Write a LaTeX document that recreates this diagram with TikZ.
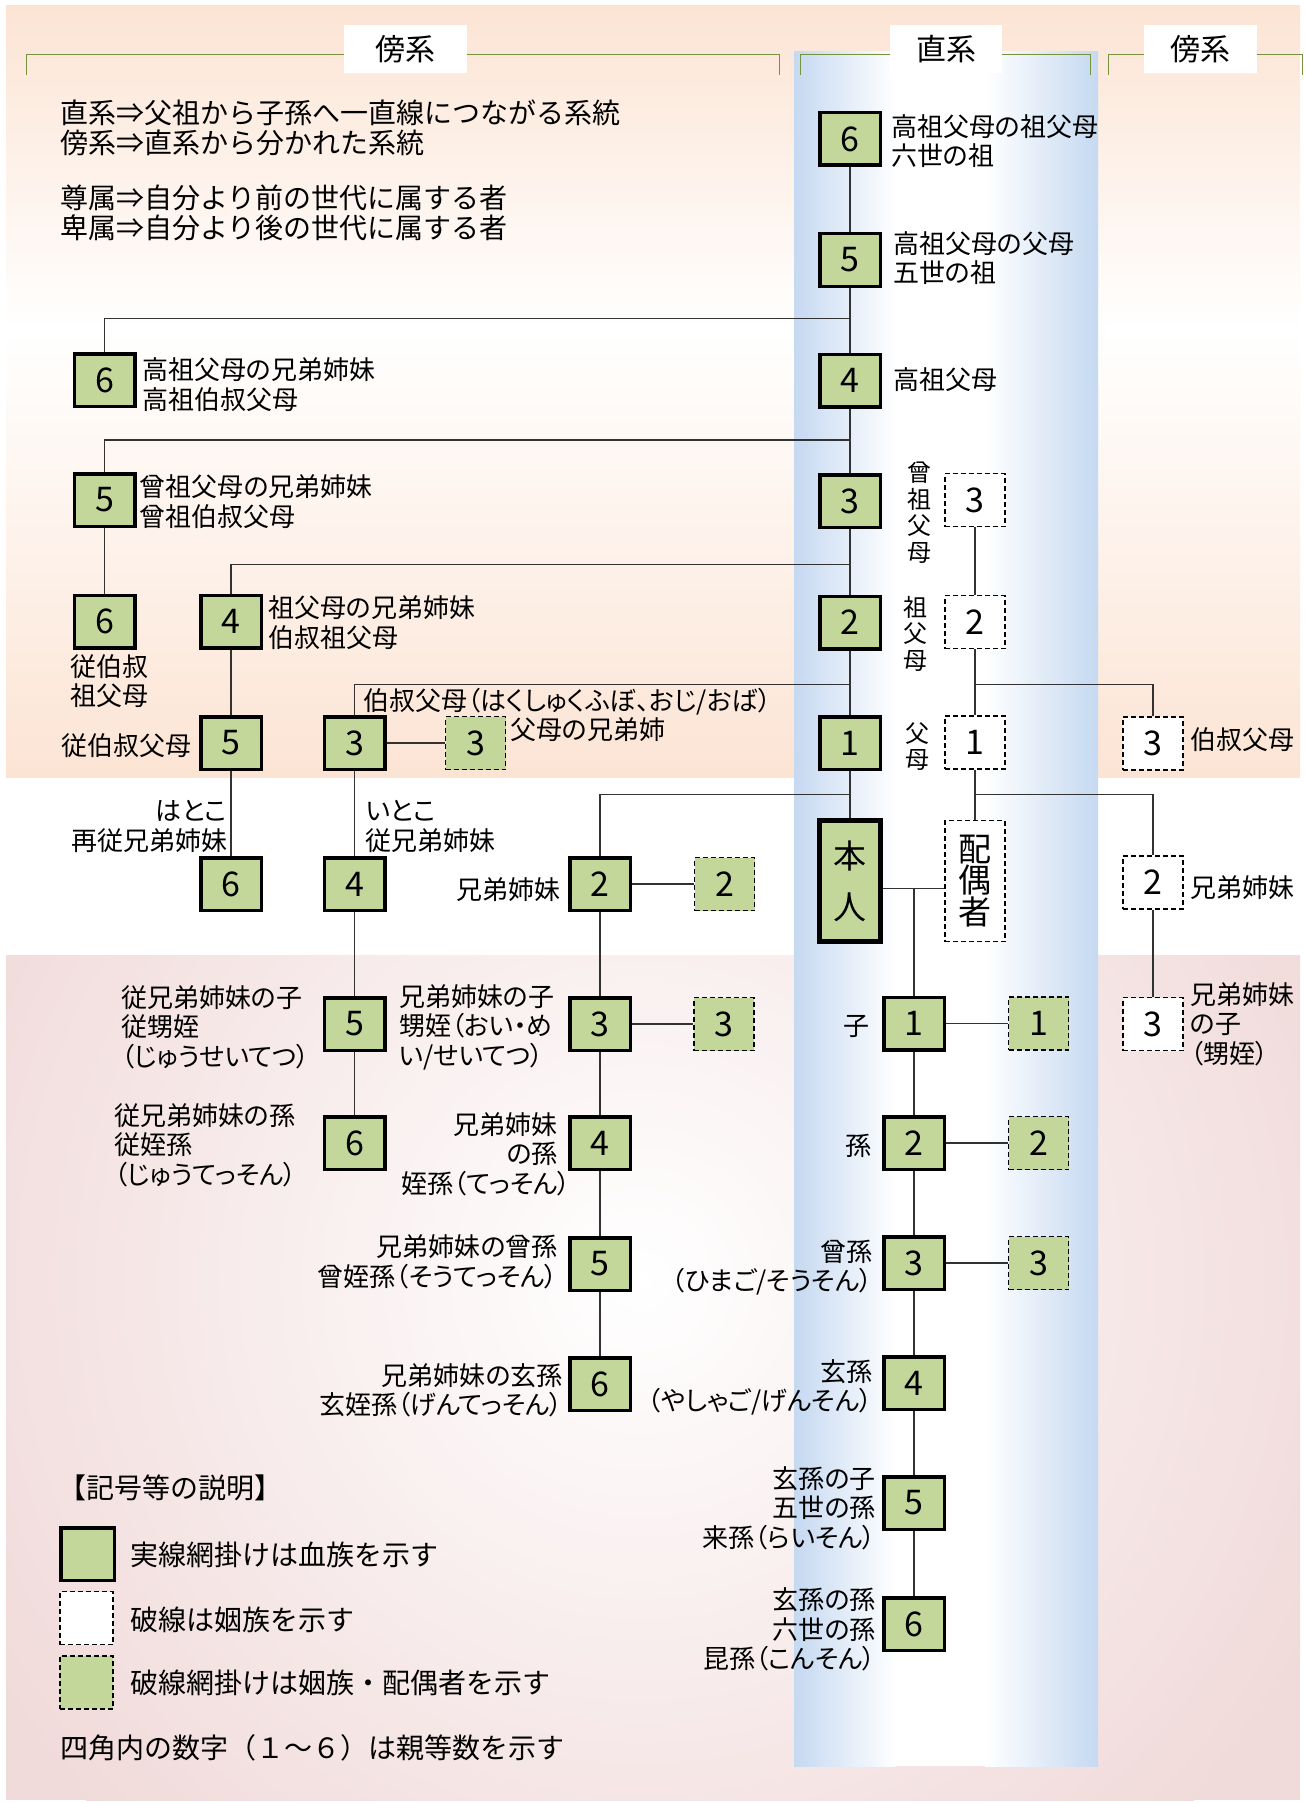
\documentclass[tikz,border=0pt]{standalone}
\usepackage{fontspec}
\setmainfont{Noto Sans CJK JP}[RawFeature=+palt]
\newfontfamily\fullwidth{Noto Sans CJK JP}

\definecolor{kingreen}{RGB}{196,215,155}
\definecolor{peach}{RGB}{252,228,212}
\definecolor{rose}{RGB}{241,218,218}
\definecolor{sky}{RGB}{197,217,241}
\definecolor{olive}{RGB}{118,146,60}
\definecolor{wiregray}{RGB}{50,50,50}

\def\numfont{\fontsize{34}{34}\selectfont}
\def\namefont{\fontsize{26}{29.5}\selectfont}
\def\notefont{\fullwidth\fontsize{28}{30}\selectfont}

\tikzset{%
  blood/.style={draw=black, line width=3.5pt, fill=kingreen,%
    minimum width=60.5pt, minimum height=52.5pt, inner sep=0pt, font=\numfont},%
  inlaw/.style={draw=black, dash pattern=on 5pt off 3pt, line width=1.3pt,%
    fill=white, minimum width=60pt, minimum height=53pt, inner sep=0pt, font=\numfont},%
  spouse/.style={inlaw, fill=kingreen},%
  wire/.style={draw=wiregray, line width=1.3pt},%
  kinlbl/.style={inner sep=0pt, font=\namefont},%
  vlbl/.style={inner sep=0pt, align=center, font=\fontsize{24}{26.5}\selectfont},%
  notelbl/.style={inner sep=0pt, anchor=west, align=left, font=\notefont},%
  hdr/.style={fill=white, minimum height=48pt, inner sep=0pt, font=\fontsize{30}{30}\selectfont},%
  brk/.style={draw=olive, line width=1pt},%
}

\begin{document}
\begin{tikzpicture}[x=1pt,y=-1pt]%
  \useasboundingbox (0,0) rectangle (1305,1803);%
  % Background bands
  \shade[top color=peach,bottom color=white] (6,6) rectangle (1300,330);%
  \shade[top color=white,bottom color=peach] (6,329.5) rectangle (1300,777);%
  \fill[rose] (6,955) rectangle (1300,1800);%
  \begin{scope}%
    \clip (6,955) rectangle (1300,1800);%
    \shade[inner color=white,outer color=rose] (640,1280) circle (760);%
  \end{scope}%
  % Direct line column
  \shade[left color=sky,right color=white] (794,52) rectangle (895.5,1766);%
  \fill[white] (895,52) rectangle (985.5,1766);%
  \shade[left color=white,right color=sky] (985,52) rectangle (1098,1766);%
  % Brackets and headers
  \foreach \xa/\xb in {26.7/779, 800/1090, 1108/1302}%
    \draw[brk] (\xa,75) -- (\xa,55) -- (\xb,55) -- (\xb,75);%
  \foreach \nm/\x/\w/\txt in {hL/405.5/123/傍系, hC/946/112/直系, hR/1200.5/113/傍系}%
    \node[hdr, minimum width=\w] (\nm) at (\x,49) {\txt};%
  % Notes at top left
  \node[notelbl] (top1) at (60,128) {直系⇒父祖から子孫へ一直線につながる系統\\傍系⇒直系から分かれた系統};%
  \node[notelbl] (top2) at (60,212.5) {尊属⇒自分より前の世代に属する者\\卑属⇒自分より後の世代に属する者};%
  % Blood relatives: name/x/y/degree
  \foreach \nm/\x/\y/\num in {%
      D6/850/139/6, D5/850/260/5, D4/850/380.5/4, D3/850/501/3, D2/850/622.5/2, D1/850/743/1,%
      L6a/104.5/380/6, L5/104.5/500/5, L6b/104.5/621.5/6,%
      L4/231/621.5/4, L5b/231/743/5, L6c/231/884/6,%
      L3/354.5/743/3, L4b/354.5/884/4, L5c/354.5/1024/5, L6d/354.5/1143/6,%
      S2/600/884/2, S3/600/1024/3, S4/600/1143/4, S5/600/1264/5, S6/600/1384/6,%
      C1/914/1023.5/1, C2/914/1143/2, C3/914/1263/3, C4/914/1383/4, C5/914/1503/5, C6/914/1624/6%
    }%
    \node[blood] (\nm) at (\x,\y) {\num};%
  \node[blood, line width=5pt, minimum height=121pt, align=center,%
    font=\fontsize{33}{51}\selectfont] (H) at (850,881) {本\\人};%
  % Relatives by marriage (dashed, white)
  \foreach \nm/\x/\y/\num in {%
      A3/975/500/3, A2/975/622/2, A1/975/742.5/1,%
      R3/1153/743.5/3, R2/1153/882.5/2, R3b/1153/1024/3%
    }%
    \node[inlaw] (\nm) at (\x,\y) {\num};%
  \node[inlaw, minimum height=121pt, align=center,%
    font=\fontsize{33}{31.5}\selectfont] (P) at (975,881) {配\\偶\\者};%
  % Spouses of blood relatives (dashed, green)
  \foreach \nm/\x/\y/\num in {%
      L3s/475.5/743/3, S2s/724.5/884/2, S3s/724/1024/3,%
      C1s/1038.5/1023.5/1, C2s/1038.5/1143/2, C3s/1038.5/1263/3%
    }%
    \node[spouse] (\nm) at (\x,\y) {\num};%
  % Junctions on the vertical lines
  \coordinate (j6) at (850,318.3);%
  \coordinate (j5) at (850,440);%
  \coordinate (j4) at (850,564.3);%
  \coordinate (j3) at (850,684.3);%
  \coordinate (j2) at (850,794.5);%
  \coordinate (ja2) at (975,684.3);%
  \coordinate (ja1) at (975,794.5);%
  \coordinate (jm) at (914,888.3);%
  % Connectors
  \foreach \a/\b in {%
      D6/D5, D5/D4, D4/D3, D3/D2, D2/D1, D1/H,%
      L5/L6b, L4/L5b, L5b/L6c, L3/L4b, L4b/L5c, L5c/L6d,%
      S2/S3, S3/S4, S4/S5, S5/S6,%
      C1/C2, C2/C3, C3/C4, C4/C5, C5/C6,%
      A3/A2, A2/A1, A1/P, R2/R3b,%
      L3/L3s, S2/S2s, S3/S3s, C1/C1s, C2/C2s, C3/C3s%
    }%
    \draw[wire] (\a) -- (\b);%
  \foreach \j/\n in {j6/L6a, j5/L5, j4/L4, j3/L3, j2/S2, ja2/R3, ja1/R2}%
    \draw[wire] (\j) -| (\n);%
  \draw[wire] (H.east |- jm) -- (P.west |- jm);%
  \draw[wire] (jm) -- (C1);%
  % Names on the direct line
  \node[kinlbl, anchor=west, align=left] (nD6) at (891,141) {高祖父母の祖父母\\六世の祖};%
  \node[kinlbl, anchor=west, align=left] (nD5) at (893,258) {高祖父母の父母\\五世の祖};%
  \node[kinlbl, anchor=west] (nD4) at (893,380) {高祖父母};%
  \node[vlbl] (nA3) at (919,512.5) {曾\\祖\\父\\母};%
  \node[vlbl] (nA2) at (915,633.5) {祖\\父\\母};%
  \node[vlbl] (nA1) at (917,746.5) {父\\母};%
  \node[kinlbl, anchor=east] (nC1) at (870,1026.5) {子};%
  \node[kinlbl, anchor=east] (nC2) at (872,1146) {孫};%
  \node[kinlbl, anchor=east, align=right] (nC3) at (872.5,1267.5) {曾孫\\（ひまご/そうそん）};%
  \node[kinlbl, anchor=east, align=right] (nC4) at (872.5,1387.5) {玄孫\\（やしゃご/げんそん）};%
  \node[kinlbl, anchor=east, align=right] (nC5) at (876,1508) {玄孫の子\\五世の孫\\来孫（らいそん）};%
  \node[kinlbl, anchor=east, align=right] (nC6) at (876,1629.5) {玄孫の孫\\六世の孫\\昆孫（こんそん）};%
  % Names on the collateral lines
  \node[kinlbl, anchor=west, align=left] (nL6a) at (142,384.5) {高祖父母の兄弟姉妹\\高祖伯叔父母};%
  \node[kinlbl, anchor=west, align=left] (nL5) at (139.5,501.5) {曾祖父母の兄弟姉妹\\曾祖伯叔父母};%
  \node[kinlbl, anchor=west, align=left] (nL6b) at (70,681) {従伯叔\\祖父母};%
  \node[kinlbl, anchor=west, align=left] (nL4) at (268,622.5) {祖父母の兄弟姉妹\\伯叔祖父母};%
  \node[kinlbl, anchor=east] (nL5b) at (192,746) {従伯叔父母};%
  \node[kinlbl, anchor=east, align=right] (nL6c) at (227.5,826.5) {はとこ\\再従兄弟姉妹};%
  \node[kinlbl, anchor=west] (nL3) at (363,701.5) {伯叔父母（はくしゅくふぼ、おじ/おば）};%
  \node[kinlbl, anchor=west] (nL3s) at (510,730) {父母の兄弟姉};%
  \node[kinlbl, anchor=west, align=left] (nL4b) at (365.5,826.5) {いとこ\\従兄弟姉妹};%
  \node[kinlbl, anchor=west, align=left] (nL5c) at (121,1027) {従兄弟姉妹の子\\従甥姪\\（じゅうせいてつ）};%
  \node[kinlbl, anchor=west, align=left] (nL6d) at (114,1145) {従兄弟姉妹の孫\\従姪孫\\（じゅうてっそん）};%
  \node[kinlbl, anchor=east] (nS2) at (561,890) {兄弟姉妹};%
  \node[kinlbl, anchor=west, align=left] (nS3) at (399,1027) {兄弟姉妹の子\\甥姪（おい・め\\い/せいてつ）};%
  \node[kinlbl, anchor=east, align=right] (nS4) at (558,1154) {兄弟姉妹\\の孫\\姪孫（てっそん\rlap{）}};%
  \node[kinlbl, anchor=east, align=right] (nS5) at (558,1262) {兄弟姉妹の曾孫\\曾姪孫（そうてっそん）};%
  \node[kinlbl, anchor=east, align=right] (nS6) at (563,1390.5) {兄弟姉妹の玄孫\\玄姪孫（げんてっそん）};%
  \node[kinlbl, anchor=west] (nR3) at (1190,740) {伯叔父母};%
  \node[kinlbl, anchor=west] (nR2) at (1190,888) {兄弟姉妹};%
  \node[kinlbl, anchor=west, align=left] (nR3b) at (1190,1024) {兄弟姉妹\\の子\\（甥姪）};%
  % Key
  \node[notelbl] (key) at (58,1488) {【記号等の説明】};%
  \node[blood, minimum width=53.5pt, minimum height=52.5pt] (kB) at (87.5,1554) {};%
  \node[inlaw, minimum width=53pt, minimum height=53pt] (kI) at (86.5,1618) {};%
  \node[spouse, minimum width=53pt, minimum height=53pt] (kS) at (86.5,1682.5) {};%
  \node[notelbl] (kBt) at (130,1555) {実線網掛けは血族を示す};%
  \node[notelbl] (kIt) at (130,1620) {破線は姻族を示す};%
  \node[notelbl] (kSt) at (130,1683) {破線網掛けは姻族・配偶者を示す};%
  \node[notelbl] (kNt) at (60,1748) {四角内の数字（１～６）は親等数を示す};%
\end{tikzpicture}
\end{document}
